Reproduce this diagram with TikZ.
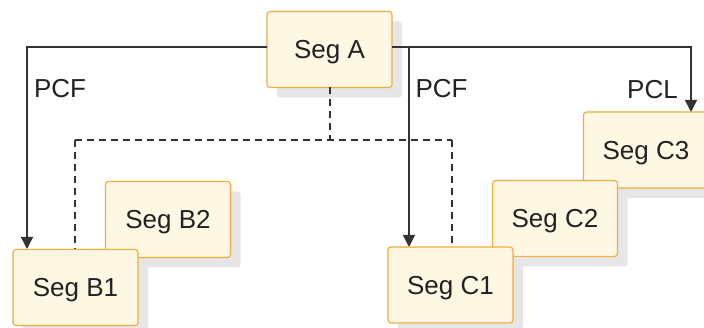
\documentclass[tikz,border=0pt]{standalone}
\usepackage{fontspec}
\setmainfont{Liberation Sans}
\usetikzlibrary{shadows,arrows.meta}
\definecolor{boxfill}{HTML}{FEF7E3}
\definecolor{boxline}{HTML}{F0AE3C}
\definecolor{shadowgray}{HTML}{E6E6E8}
\definecolor{ink}{HTML}{222222}
\definecolor{wire}{HTML}{333333}
\tikzset{
  segbox/.style={draw=boxline, line width=1.2pt, fill=boxfill, rounded corners=3pt,
    minimum width=125pt, minimum height=76pt, inner sep=0pt, text=ink,
    font=\fontsize{26}{30}\selectfont, text depth=0pt,
    drop shadow={shadow xshift=10pt, shadow yshift=-10pt, fill=shadowgray, opacity=1, draw=none}},
  lbl/.style={inner sep=0pt, text=ink, font=\fontsize{26}{30}\selectfont, text depth=0pt},
  link/.style={draw=wire, line width=1.3pt, -{Triangle[length=12pt,width=12pt]}},
  dlink/.style={draw=wire, line width=1.3pt, dash pattern=on 7pt off 5pt},
}
\begin{document}
\begin{tikzpicture}[x=1pt,y=-1pt]
\clip (0,0) rectangle (704,328);
\fill[white] (0,0) rectangle (704,328);
% boxes
\node[segbox] (A) at (329.5,49.5) {Seg A};
\node[segbox] (C3) at (646,150) {Seg C3};
\node[segbox] (C2) at (555,218.5) {Seg C2};
\node[segbox] (B2) at (168,219.5) {Seg B2};
% coordinates
\coordinate (aL) at (267,47);
\coordinate (aR) at (392,47);
\coordinate (lc) at (27,47);
\coordinate (rc) at (691,47);
\coordinate (mc) at (409,47);
\coordinate (dj) at (330,140);
\coordinate (dl) at (75,140);
\coordinate (dr) at (452,140);
\coordinate (aB) at (330,87);
% connectors
\draw[link] (aL) -- (lc) -- (27,249);
\draw[link] (aR) -- (rc) -- (691,112);
\draw[link] (mc) -- (409,247);
\draw[dlink] (aB) -- (dj);
\draw[dlink] (dl) -- (dr);
\draw[dlink] (dl) -- (75,249);
\draw[dlink] (dr) -- (452,247);
% front boxes
\node[segbox] (B1) at (75.5,287.5) {Seg B1};
\node[segbox] (C1) at (450.5,285) {Seg C1};
% labels
\node[lbl] (p1) at (60,88.5) {PCF};
\node[lbl] (p2) at (441.5,88.5) {PCF};
\node[lbl] (p3) at (652.5,89.5) {PCL};
\end{tikzpicture}
\end{document}
